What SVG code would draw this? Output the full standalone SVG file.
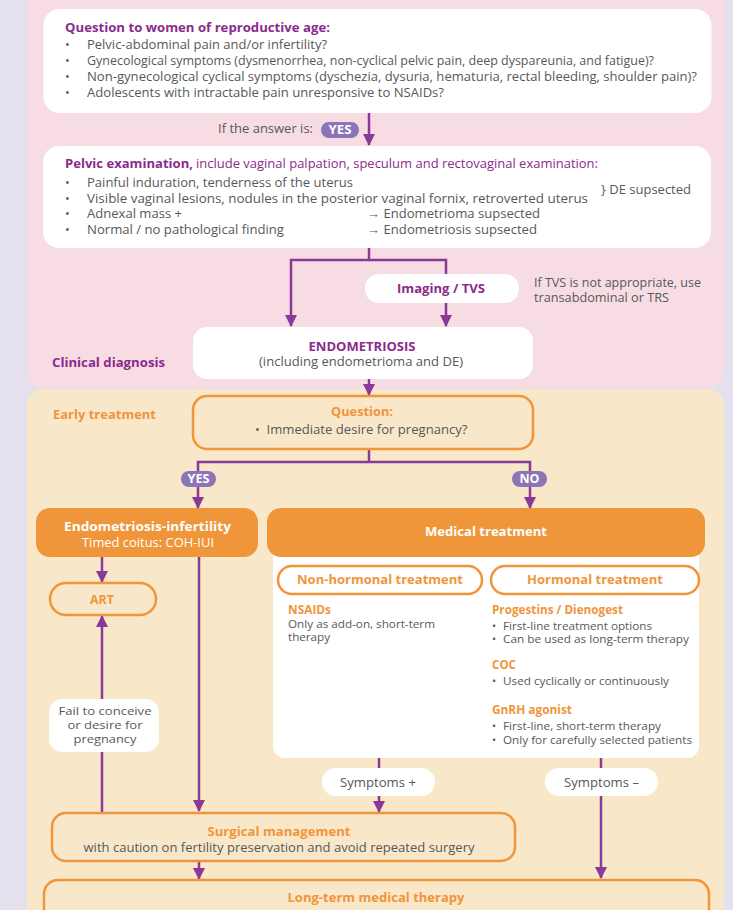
<svg xmlns="http://www.w3.org/2000/svg" width="733" height="910" viewBox="0 0 733 910">
<style>
text{font-family:"Open Sans","Liberation Sans",sans-serif;}
.t{fill:#58585a;font-size:12.5px;}
.f{fill:#58585a;font-size:11.5px;}
.s{fill:#58585a;font-size:11px;}
.pb{fill:#8a2b8d;font-size:13px;font-weight:bold;}
.pbs{fill:#8a2b8d;font-size:12.5px;font-weight:bold;}
.pr{fill:#8a2b8d;font-size:12.5px;}
.ob{fill:#f0953a;font-size:13px;font-weight:bold;}
.obs{fill:#f0953a;font-size:11.5px;font-weight:bold;}
.wb{fill:#ffffff;font-size:13px;font-weight:bold;}
.wr{fill:#ffffff;font-size:12.5px;}
.pill{fill:#8b74b7;}
.pt{fill:#ffffff;font-size:11.5px;font-weight:bold;}
.m{text-anchor:middle;}
.wbox{fill:#ffffff;}
.obox{fill:none;stroke:#f0953a;stroke-width:2.5;}
.ofill{fill:#f0963a;}
.c{fill:none;stroke:#8a3a96;stroke-width:2.5;}
</style>
<defs>
<marker id="ah" markerUnits="userSpaceOnUse" markerWidth="12" markerHeight="12" viewBox="0 0 12 12" refX="11" refY="6" orient="auto">
<path d="M0,0 L12,6 L0,12 Z" fill="#8a3a96"/>
</marker>
</defs>
<rect x="0" y="0" width="733" height="910" fill="#e4e0ee"/>
<rect x="27" y="-16" width="697" height="404" rx="16" fill="#f8dce4"/>
<rect x="27" y="389" width="697" height="540" rx="16" fill="#f9e7ca"/>

<g id="connectors">
<path class="c" d="M369,113 V145" marker-end="url(#ah)"/>
<path class="c" d="M369,248 V260"/>
<path class="c" d="M446,274 V260 H291 V326" marker-end="url(#ah)"/>
<path class="c" d="M446,303 V326" marker-end="url(#ah)"/>
<path class="c" d="M369,379 V395" marker-end="url(#ah)"/>
<path class="c" d="M369,449 V462"/>
<path class="c" d="M530,471 V462 H198 V508" marker-end="url(#ah)"/>
<path class="c" d="M530,487 V508" marker-end="url(#ah)"/>
<path class="c" d="M102,557 V582" marker-end="url(#ah)"/>
<path class="c" d="M102,813 V752"/>
<path class="c" d="M102,699 V616" marker-end="url(#ah)"/>
<path class="c" d="M199,557 V811" marker-end="url(#ah)"/>
<path class="c" d="M379,758 V768"/>
<path class="c" d="M379,796 V812" marker-end="url(#ah)"/>
<path class="c" d="M601,758 V768"/>
<path class="c" d="M601,796 V878" marker-end="url(#ah)"/>
<path class="c" d="M199,861 V879" marker-end="url(#ah)"/>
</g>

<g id="question-women">
<rect class="wbox" x="43.5" y="9" width="668" height="104" rx="16"/>
<text class="pb" x="65" y="32" textLength="265" lengthAdjust="spacingAndGlyphs">Question to women of reproductive age:</text>
<text class="t" x="65" y="49">•</text>
<text class="t" x="87" y="49" textLength="240" lengthAdjust="spacingAndGlyphs">Pelvic-abdominal pain and/or infertility?</text>
<text class="t" x="65" y="65">•</text>
<text class="t" x="87" y="65" textLength="567" lengthAdjust="spacingAndGlyphs">Gynecological symptoms (dysmenorrhea, non-cyclical pelvic pain, deep dyspareunia, and fatigue)?</text>
<text class="t" x="65" y="81">•</text>
<text class="t" x="87" y="81" textLength="610" lengthAdjust="spacingAndGlyphs">Non-gynecological cyclical symptoms (dyschezia, dysuria, hematuria, rectal bleeding, shoulder pain)?</text>
<text class="t" x="65" y="97">•</text>
<text class="t" x="87" y="97" textLength="357" lengthAdjust="spacingAndGlyphs">Adolescents with intractable pain unresponsive to NSAIDs?</text>
</g>

<g id="yes-label">
<text class="t" x="218" y="133" textLength="95" lengthAdjust="spacingAndGlyphs">If the answer is:</text>
<rect class="pill" x="321" y="122" width="38" height="16" rx="8"/>
<text class="pt m" x="340" y="134" textLength="23" lengthAdjust="spacingAndGlyphs">YES</text>
</g>

<g id="pelvic-exam">
<rect class="wbox" x="43" y="146" width="668" height="102" rx="16"/>
<text class="pb" x="65" y="168" textLength="128" lengthAdjust="spacingAndGlyphs">Pelvic examination,</text>
<text class="pr" x="196" y="168" textLength="402" lengthAdjust="spacingAndGlyphs">include vaginal palpation, speculum and rectovaginal examination:</text>
<text class="t" x="65" y="187">•</text>
<text class="t" x="87" y="187" textLength="266" lengthAdjust="spacingAndGlyphs">Painful induration, tenderness of the uterus</text>
<text class="t" x="65" y="203">•</text>
<text class="t" x="87" y="203" textLength="501" lengthAdjust="spacingAndGlyphs">Visible vaginal lesions, nodules in the posterior vaginal fornix, retroverted uterus</text>
<text class="t" x="65" y="218">•</text>
<text class="t" x="87" y="218" textLength="95" lengthAdjust="spacingAndGlyphs">Adnexal mass +</text>
<text class="t" x="65" y="234">•</text>
<text class="t" x="87" y="234" textLength="197" lengthAdjust="spacingAndGlyphs">Normal / no pathological finding</text>
<text class="t" x="601" y="194" textLength="90" lengthAdjust="spacingAndGlyphs">} DE supsected</text>
<text class="t" x="367" y="218" textLength="173" lengthAdjust="spacingAndGlyphs">→ Endometrioma supsected</text>
<text class="t" x="367" y="234" textLength="170" lengthAdjust="spacingAndGlyphs">→ Endometriosis supsected</text>
</g>

<g id="imaging">
<rect class="wbox" x="365" y="274" width="154" height="29" rx="14"/>
<text class="pb m" x="441" y="293" textLength="88" lengthAdjust="spacingAndGlyphs">Imaging / TVS</text>
<text class="t" x="534" y="287" textLength="167" lengthAdjust="spacingAndGlyphs">If TVS is not appropriate, use</text>
<text class="t" x="534" y="302" textLength="135" lengthAdjust="spacingAndGlyphs">transabdominal or TRS</text>
</g>

<g id="endometriosis">
<rect class="wbox" x="193" y="327" width="340" height="52" rx="14"/>
<text class="pbs m" x="362" y="351" textLength="107" lengthAdjust="spacingAndGlyphs">ENDOMETRIOSIS</text>
<text class="t m" x="361" y="366" textLength="204" lengthAdjust="spacingAndGlyphs">(including endometrioma and DE)</text>
</g>
<text class="pb" x="52" y="367" textLength="113" lengthAdjust="spacingAndGlyphs">Clinical diagnosis</text>

<text class="ob" x="53" y="419" textLength="103" lengthAdjust="spacingAndGlyphs">Early treatment</text>

<g id="question-pregnancy">
<rect class="obox" x="193" y="396" width="340" height="53" rx="14"/>
<text class="ob m" x="362" y="416" textLength="62" lengthAdjust="spacingAndGlyphs">Question:</text>
<text class="t" x="255" y="434">•</text>
<text class="t" x="266.5" y="434" textLength="201" lengthAdjust="spacingAndGlyphs">Immediate desire for pregnancy?</text>
</g>

<g id="yes-pill">
<rect class="pill" x="181" y="471" width="35" height="16" rx="8"/>
<text class="pt m" x="198.5" y="483" textLength="22" lengthAdjust="spacingAndGlyphs">YES</text>
</g>
<g id="no-pill">
<rect class="pill" x="512" y="471" width="35" height="16" rx="8"/>
<text class="pt m" x="529.5" y="483" textLength="20" lengthAdjust="spacingAndGlyphs">NO</text>
</g>

<g id="endo-infertility">
<rect class="ofill" x="36" y="508" width="222" height="49" rx="14"/>
<text class="wb m" x="147.5" y="531" textLength="167" lengthAdjust="spacingAndGlyphs">Endometriosis-infertility</text>
<text class="wr m" x="148" y="547" textLength="132" lengthAdjust="spacingAndGlyphs">Timed coitus: COH-IUI</text>
</g>

<g id="medical-treatment">
<rect class="wbox" x="273" y="540" width="426" height="218" rx="12"/>
<rect class="ofill" x="267" y="508" width="438" height="49" rx="14"/>
<text class="wb m" x="486" y="536" textLength="122" lengthAdjust="spacingAndGlyphs">Medical treatment</text>
</g>

<g id="non-hormonal">
<rect class="obox" x="278" y="566" width="204" height="28" rx="14" style="fill:#ffffff"/>
<text class="ob m" x="380" y="584" textLength="166" lengthAdjust="spacingAndGlyphs">Non-hormonal treatment</text>
<text class="obs" x="288" y="614" textLength="43" lengthAdjust="spacingAndGlyphs">NSAIDs</text>
<text class="s" x="288" y="628" textLength="147" lengthAdjust="spacingAndGlyphs">Only as add-on, short-term</text>
<text class="s" x="288" y="641" textLength="42" lengthAdjust="spacingAndGlyphs">therapy</text>
</g>

<g id="hormonal">
<rect class="obox" x="491" y="566" width="208" height="28" rx="14" style="fill:#ffffff"/>
<text class="ob m" x="595" y="584" textLength="136" lengthAdjust="spacingAndGlyphs">Hormonal treatment</text>
<text class="obs" x="492" y="614" textLength="131" lengthAdjust="spacingAndGlyphs">Progestins / Dienogest</text>
<text class="s" x="492" y="630">•</text>
<text class="s" x="503" y="630" textLength="149" lengthAdjust="spacingAndGlyphs">First-line treatment options</text>
<text class="s" x="492" y="643">•</text>
<text class="s" x="503" y="643" textLength="186" lengthAdjust="spacingAndGlyphs">Can be used as long-term therapy</text>
<text class="obs" x="492" y="669" textLength="24" lengthAdjust="spacingAndGlyphs">COC</text>
<text class="s" x="492" y="685">•</text>
<text class="s" x="503" y="685" textLength="166" lengthAdjust="spacingAndGlyphs">Used cyclically or continuously</text>
<text class="obs" x="492" y="714" textLength="80" lengthAdjust="spacingAndGlyphs">GnRH agonist</text>
<text class="s" x="492" y="730">•</text>
<text class="s" x="503" y="730" textLength="158" lengthAdjust="spacingAndGlyphs">First-line, short-term therapy</text>
<text class="s" x="492" y="744">•</text>
<text class="s" x="503" y="744" textLength="189" lengthAdjust="spacingAndGlyphs">Only for carefully selected patients</text>
</g>

<g id="art">
<rect class="obox" x="50" y="583" width="106" height="32" rx="16"/>
<text class="ob m" x="102" y="604" textLength="24" lengthAdjust="spacingAndGlyphs">ART</text>
</g>

<g id="fail-to-conceive">
<rect class="wbox" x="49" y="699" width="110" height="53" rx="13"/>
<text class="f m" x="105" y="715" textLength="93" lengthAdjust="spacingAndGlyphs">Fail to conceive</text>
<text class="f m" x="105" y="729" textLength="75" lengthAdjust="spacingAndGlyphs">or desire for</text>
<text class="f m" x="105" y="743" textLength="63" lengthAdjust="spacingAndGlyphs">pregnancy</text>
</g>

<g id="symptoms-plus">
<rect class="wbox" x="322" y="768" width="113" height="28" rx="14"/>
<text class="t m" x="378" y="787" textLength="76" lengthAdjust="spacingAndGlyphs">Symptoms +</text>
</g>
<g id="symptoms-minus">
<rect class="wbox" x="545" y="768" width="113" height="28" rx="14"/>
<text class="t m" x="601.5" y="787" textLength="75" lengthAdjust="spacingAndGlyphs">Symptoms –</text>
</g>

<g id="surgical">
<rect class="obox" x="52" y="813" width="463" height="48" rx="14"/>
<text class="ob m" x="279" y="836" textLength="143" lengthAdjust="spacingAndGlyphs">Surgical management</text>
<text class="t m" x="279" y="852" textLength="391" lengthAdjust="spacingAndGlyphs">with caution on fertility preservation and avoid repeated surgery</text>
</g>

<g id="long-term">
<rect class="obox" x="44" y="880" width="665" height="50" rx="14"/>
<text class="ob m" x="376" y="902" textLength="177" lengthAdjust="spacingAndGlyphs">Long-term medical therapy</text>
</g>
</svg>
